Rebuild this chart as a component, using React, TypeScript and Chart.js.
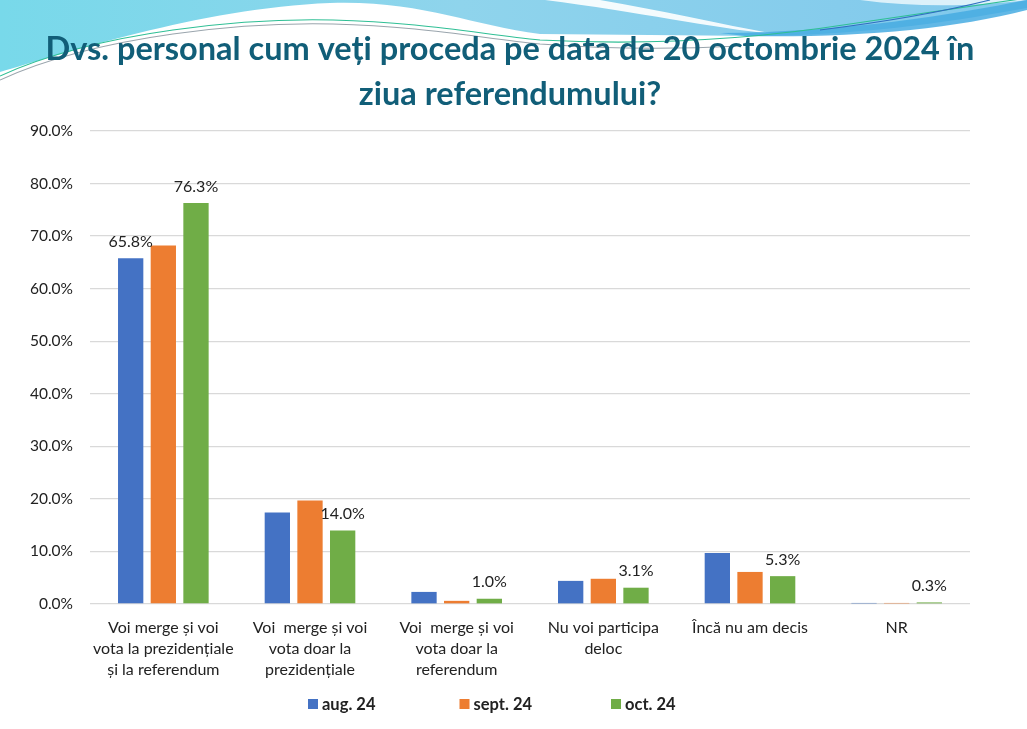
import React, { useEffect, useRef } from "react";
import { Chart, registerables } from "chart.js";

Chart.register(...registerables);

const titleLines = [
  "Dvs. personal cum veți proceda pe data de 20 octombrie 2024 în",
  "ziua referendumului?",
];
const categories = [
  ["Voi merge și voi", "vota la prezidențiale", "și la referendum"],
  ["Voi  merge și voi", "vota doar la", "prezidențiale"],
  ["Voi  merge și voi", "vota doar la", "referendum"],
  ["Nu voi participa", "deloc"],
  ["Încă nu am decis"],
  ["NR"],
];
const seriesNames = ["aug. 24", "sept. 24", "oct. 24"];
const aug24 = [65.8, 17.4, 2.3, 4.4, 9.7, 0.2];
const sept24 = [68.2, 19.7, 0.6, 4.8, 6.1, 0.2];
const oct24 = [76.3, 14.0, 1.0, 3.1, 5.3, 0.3];
const seriesColors = ["#4472C4", "#ED7D31", "#70AD47"];
// which bars carry a value label, per series
const labelledBars = [[0], [], [0, 1, 2, 3, 4, 5]];
const yMin = 0;
const yMax = 90;
const yStep = 10;

const FONT = "Lato, 'Open Sans', sans-serif";

const wavePlugin = {
  id: "wave",
  beforeDraw(chart: any) {
    const ctx = chart.ctx as CanvasRenderingContext2D;
    const w = chart.width;
    ctx.save();
    ctx.fillStyle = "#ffffff";
    ctx.fillRect(0, 0, w, chart.height);
    const g = ctx.createLinearGradient(0, 0, w, 0);
    g.addColorStop(0, "#78d9ea");
    g.addColorStop(0.45, "#8fd4ec");
    g.addColorStop(1, "#80c8ec");
    ctx.beginPath();
    ctx.moveTo(0, 0);
    ctx.lineTo(w, 0);
    ctx.lineTo(w, 8);
    ctx.bezierCurveTo(960, 20, 880, 34, 760, 36);
    ctx.lineTo(540, 34);
    ctx.bezierCurveTo(470, 25, 420, 0, 330, 3);
    ctx.bezierCurveTo(200, 8, 60, 55, 0, 72);
    ctx.closePath();
    ctx.fillStyle = g;
    ctx.fill();
    ctx.beginPath();
    ctx.moveTo(545, 0);
    ctx.bezierCurveTo(640, 12, 710, 28, 775, 34);
    ctx.bezierCurveTo(720, 24, 660, 10, 600, 0);
    ctx.closePath();
    ctx.fillStyle = "rgba(255,255,255,0.9)";
    ctx.fill();
    ctx.beginPath();
    ctx.moveTo(860, 0);
    ctx.bezierCurveTo(920, 8, 980, 6, w, 0);
    ctx.closePath();
    ctx.fillStyle = "rgba(230,245,252,0.9)";
    ctx.fill();
    ctx.beginPath();
    ctx.moveTo(720, 33);
    ctx.bezierCurveTo(850, 32, 950, 15, w, 0);
    ctx.lineTo(w, 10);
    ctx.bezierCurveTo(950, 30, 850, 38, 745, 36);
    ctx.closePath();
    ctx.fillStyle = "rgba(70,172,226,0.85)";
    ctx.fill();
    ctx.lineWidth = 1.1;
    ctx.strokeStyle = "#9aa5ad";
    ctx.beginPath();
    ctx.moveTo(0, 80);
    ctx.bezierCurveTo(100, 34, 250, 22, 333, 24);
    ctx.bezierCurveTo(420, 26, 480, 38, 540, 44);
    ctx.bezierCurveTo(620, 50, 680, 49, 740, 46);
    ctx.stroke();
    ctx.strokeStyle = "#2fbf95";
    ctx.beginPath();
    ctx.moveTo(0, 76);
    ctx.bezierCurveTo(100, 30, 250, 18, 333, 20);
    ctx.bezierCurveTo(420, 22, 480, 34, 540, 40);
    ctx.bezierCurveTo(650, 46, 760, 38, 850, 24);
    ctx.bezierCurveTo(920, 14, 980, 5, w, -2);
    ctx.stroke();
    ctx.strokeStyle = "#2f6fc0";
    ctx.beginPath();
    ctx.moveTo(820, 30);
    ctx.bezierCurveTo(900, 20, 950, 10, 990, 0);
    ctx.stroke();
    ctx.restore();
  },
};

const titlePlugin = {
  id: "slideTitle",
  beforeDatasetsDraw(chart: any) {
    const ctx = chart.ctx as CanvasRenderingContext2D;
    ctx.save();
    ctx.font = `bold 32.5px ${FONT}`;
    ctx.fillStyle = "#115E78";
    ctx.textAlign = "center";
    ctx.textBaseline = "middle";
    titleLines.forEach((line, i) => {
      ctx.fillText(line, 510, 50 + i * 45);
    });
    ctx.restore();
  },
};

const valueLabelPlugin = {
  id: "valueLabels",
  afterDatasetsDraw(chart: any) {
    const ctx = chart.ctx as CanvasRenderingContext2D;
    ctx.save();
    ctx.font = `16px ${FONT}`;
    ctx.fillStyle = "#222222";
    ctx.textAlign = "center";
    ctx.textBaseline = "middle";
    chart.data.datasets.forEach((ds: any, di: number) => {
      const meta = chart.getDatasetMeta(di);
      (labelledBars[di] || []).forEach((idx: number) => {
        const el = meta.data[idx];
        if (!el) return;
        const v = ds.data[idx] as number;
        ctx.fillText(v.toFixed(1) + "%", el.x, el.y - 16.5);
      });
    });
    ctx.restore();
  },
};

const legendPlugin = {
  id: "customLegend",
  afterDraw(chart: any) {
    const ctx = chart.ctx as CanvasRenderingContext2D;
    const startX = 308;
    const slot = 151.5;
    const cy = 704;
    ctx.save();
    ctx.font = `bold 16.5px ${FONT}`;
    ctx.textBaseline = "middle";
    ctx.textAlign = "left";
    chart.data.datasets.forEach((ds: any, i: number) => {
      const x = startX + i * slot;
      ctx.fillStyle = ds.backgroundColor;
      ctx.fillRect(x, cy - 5, 10, 10);
      ctx.fillStyle = "#222222";
      ctx.fillText(ds.label, x + 14, cy + 0.5);
    });
    ctx.restore();
  },
};

export default function App() {
  const ref = useRef<HTMLCanvasElement | null>(null);
  useEffect(() => {
    if (!ref.current) return;
    const series = [aug24, sept24, oct24];
    const chart = new Chart(ref.current, {
      type: "bar",
      data: {
        labels: categories as any,
        datasets: series.map((d, i) => ({
          label: seriesNames[i],
          data: d,
          backgroundColor: seriesColors[i],
          borderWidth: 0,
          categoryPercentage: 0.668,
          barPercentage: 0.775,
        })),
      },
      options: {
        animation: false,
        responsive: false,
        devicePixelRatio: 1,
        layout: { padding: { left: 0, right: 57, top: 131, bottom: 0 } },
        plugins: {
          legend: { display: false },
          tooltip: { enabled: false },
          title: { display: false },
        },
        scales: {
          x: {
            grid: { display: false, drawTicks: false },
            border: { display: false },
            ticks: {
              color: "#222222",
              font: { family: FONT, size: 16, lineHeight: 1.31 },
              padding: 13.5,
              autoSkip: false,
              maxRotation: 0,
              minRotation: 0,
            },
            afterFit: (s: any) => {
              s.height = 125;
            },
          },
          y: {
            min: yMin,
            max: yMax,
            grid: { color: "#d9d9d9", lineWidth: 1.3, drawTicks: false },
            border: { display: false },
            ticks: {
              stepSize: yStep,
              color: "#222222",
              font: { family: FONT, size: 15.5 },
              padding: 17,
              callback: (v: any) => Number(v).toFixed(1) + "%",
            },
            afterFit: (s: any) => {
              s.width = 90;
            },
          },
        },
      },
      plugins: [wavePlugin, titlePlugin, valueLabelPlugin, legendPlugin],
    });
    return () => chart.destroy();
  }, []);
  return (
    <div style={{ position: "absolute", left: 0, top: 0, width: 1027, height: 729 }}>
      <canvas ref={ref} width={1027} height={729} style={{ width: 1027, height: 729 }} />
    </div>
  );
}
